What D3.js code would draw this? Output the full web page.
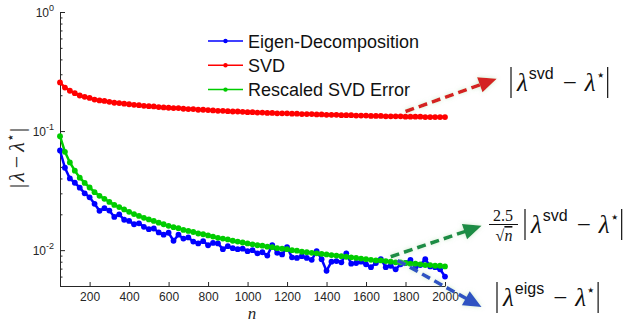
<!DOCTYPE html>
<html>
<head>
<meta charset="utf-8">
<script src="https://cdn.jsdelivr.net/npm/d3@7"></script>
<style>
  body { margin: 0; background: #fff; }
  svg { display: block; }
</style>
</head>
<body>
<div id="chart"></div>
<script>
// problem size n
const nValues = [50, 75, 100, 125, 150, 175, 200, 225, 250, 275, 300, 325, 350, 375, 400, 425, 450, 475, 500, 525,
  550, 575, 600, 625, 650, 675, 700, 725, 750, 775, 800, 825, 850, 875, 900, 925, 950, 975, 1000, 1025,
  1050, 1075, 1100, 1125, 1150, 1175, 1200, 1225, 1250, 1275, 1300, 1325, 1350, 1375, 1400, 1425, 1450, 1475, 1500, 1525,
  1550, 1575, 1600, 1625, 1650, 1675, 1700, 1725, 1750, 1775, 1800, 1825, 1850, 1875, 1900, 1925, 1950, 1975, 2000]

const eigenErr = [0.0687, 0.0492, 0.0400, 0.0368, 0.0335, 0.0300, 0.0278, 0.0245, 0.0214, 0.0225,
  0.0215, 0.0190, 0.0200, 0.0180, 0.0176, 0.0165, 0.0168, 0.0157, 0.0150, 0.0152,
  0.0141, 0.0135, 0.0140, 0.0120, 0.0135, 0.0125, 0.0128, 0.0118, 0.0114, 0.0119,
  0.0110, 0.0115, 0.0114, 0.0102, 0.0108, 0.0104, 0.0102, 0.0103, 0.0098, 0.0100,
  0.0094, 0.0096, 0.0090, 0.0110, 0.0095, 0.0092, 0.0106, 0.0087, 0.0086, 0.0089,
  0.0086, 0.0083, 0.0098, 0.0084, 0.0067, 0.0080, 0.0081, 0.0079, 0.0094, 0.0077,
  0.0078, 0.0080, 0.0076, 0.0072, 0.0078, 0.0084, 0.0072, 0.0074, 0.0069, 0.0076,
  0.0078, 0.0083, 0.0072, 0.0075, 0.0084, 0.0073, 0.0072, 0.0069, 0.0060]

const svdErr = [0.256, 0.232, 0.218, 0.208, 0.199, 0.194, 0.190, 0.184, 0.181, 0.179,
  0.176, 0.173, 0.172, 0.170, 0.168, 0.166, 0.165, 0.163, 0.162, 0.161,
  0.159, 0.158, 0.157, 0.156, 0.156, 0.154, 0.153, 0.153, 0.151, 0.151,
  0.150, 0.149, 0.148, 0.148, 0.147, 0.146, 0.146, 0.145, 0.144, 0.144,
  0.143, 0.143, 0.142, 0.142, 0.141, 0.141, 0.141, 0.140, 0.140, 0.139,
  0.139, 0.139, 0.138, 0.138, 0.137, 0.137, 0.137, 0.136, 0.136, 0.136,
  0.135, 0.135, 0.135, 0.134, 0.134, 0.134, 0.133, 0.133, 0.133, 0.133,
  0.132, 0.132, 0.132, 0.132, 0.131, 0.131, 0.131, 0.131, 0.131]

const rescaledErr = [0.0905, 0.0670, 0.0545, 0.0465, 0.0406, 0.0367, 0.0336, 0.0307, 0.0286, 0.0270,
  0.0254, 0.0240, 0.0230, 0.0220, 0.0210, 0.0201, 0.0194, 0.0187, 0.0181, 0.0176,
  0.0170, 0.0165, 0.0160, 0.0156, 0.0153, 0.0148, 0.0145, 0.0142, 0.0138, 0.0136,
  0.0133, 0.0130, 0.0127, 0.0125, 0.0123, 0.0120, 0.0118, 0.0116, 0.0114, 0.0112,
  0.0110, 0.0109, 0.0107, 0.0106, 0.0104, 0.0103, 0.0102, 0.0100, 0.0099, 0.0097,
  0.0096, 0.0095, 0.0094, 0.0093, 0.0092, 0.0091, 0.0090, 0.0089, 0.0088, 0.0087,
  0.0086, 0.0085, 0.0084, 0.0083, 0.0082, 0.0082, 0.0081, 0.0080, 0.0079, 0.0079,
  0.0078, 0.0077, 0.0077, 0.0076, 0.0075, 0.0075, 0.0074, 0.0074, 0.0073]

const seriesNames = ['Eigen-Decomposition', 'SVD', 'Rescaled SVD Error']
const xTicks = [200, 400, 600, 800, 1000, 1200, 1400, 1600, 1800, 2000]
const yTicks = [1, 0.1, 0.01]
const yTickExp = ['0', '-1', '-2']
const yMinorTicks = [0.9, 0.8, 0.7, 0.6, 0.5, 0.4, 0.3, 0.2,
  0.09, 0.08, 0.07, 0.06, 0.05, 0.04, 0.03, 0.02,
  0.009, 0.008, 0.007, 0.006, 0.005]

// annotation arrows, in data coordinates [n, value]
const arrows = [
  { from: [1800, 0.146], to: [2262, 0.275], color: '#d42020' },
  { from: [1725, 0.0088], to: [2185, 0.0160], color: '#1a8c45' },
  { from: [1760, 0.0082], to: [2185, 0.00333], color: '#2f53c2' },
]

const W = 639
const H = 323
const colors = ['#0000ff', '#ff0000', '#00cc00']
const axisColor = '#262626'
const mathFont = '"Liberation Serif", "DejaVu Serif", serif'
const sansFont = '"Liberation Sans", Arial, sans-serif'

const svg = d3.select('#chart').append('svg')
  .attr('width', W)
  .attr('height', H)

const defs = svg.append('defs')
const glow = defs.append('filter').attr('id', 'glow')
  .attr('x', '-50%').attr('y', '-50%').attr('width', '200%').attr('height', '200%')
glow.append('feDropShadow')
  .attr('dx', 0).attr('dy', 0).attr('stdDeviation', 2)
  .attr('flood-color', '#9ad49a').attr('flood-opacity', 0.5)

const x = d3.scaleLinear().domain([50, 2000]).range([60, 445])
const y = d3.scaleLog().domain([0.005, 1]).range([286, 12])

// axes
const xAxis = svg.append('g')
  .attr('transform', `translate(0,${y(0.005)})`)
  .call(d3.axisBottom(x).tickValues(xTicks).tickSize(-4).tickSizeOuter(0).tickPadding(6).tickFormat(d3.format('d')))
xAxis.selectAll('text')
  .attr('font-family', sansFont).attr('font-size', 12).attr('fill', axisColor)

const yMinor = svg.append('g')
  .attr('transform', `translate(${x(50)},0)`)
  .call(d3.axisLeft(y).tickValues(yMinorTicks).tickSize(-2.5).tickSizeOuter(0).tickFormat(''))
yMinor.select('.domain').remove()

svg.append('g')
  .attr('transform', `translate(${x(50)},0)`)
  .call(d3.axisLeft(y).tickValues(yTicks).tickSize(-5).tickSizeOuter(0).tickFormat(''))

svg.selectAll('.domain, .tick line').attr('stroke', axisColor).attr('stroke-width', 1)

yTicks.forEach((v, i) => {
  const t = svg.append('text')
    .attr('x', x(50) - 6)
    .attr('y', y(v) + 5)
    .attr('text-anchor', 'end')
    .attr('font-family', sansFont)
    .attr('fill', axisColor)
  t.append('tspan').attr('font-size', 12).text('10')
  t.append('tspan').attr('font-size', 9).attr('dy', -6).text(yTickExp[i])
})

// axis titles
svg.append('text')
  .attr('x', 252).attr('y', 319)
  .attr('text-anchor', 'middle')
  .attr('font-family', mathFont).attr('font-style', 'italic').attr('font-size', 17)
  .attr('fill', axisColor)
  .text('n')

const yl = svg.append('text')
  .attr('transform', 'translate(24,158) rotate(-90)')
  .attr('text-anchor', 'middle')
  .attr('font-family', mathFont).attr('font-size', 22)
  .attr('fill', axisColor)
yl.append('tspan').text('|')
yl.append('tspan').attr('font-style', 'italic').attr('dx', 2).text('λ')
yl.append('tspan').attr('dx', 4).text('−')
yl.append('tspan').attr('font-style', 'italic').attr('dx', 4).text('λ')
yl.append('tspan').attr('font-size', 14).attr('dy', -9).text('⋆')
yl.append('tspan').attr('dy', 9).attr('dx', 1).text('|')

// data series
const series = [eigenErr, svdErr, rescaledErr]
const line = d3.line().x((d) => x(d[0])).y((d) => y(d[1]))
series.forEach((vals, i) => {
  const pts = nValues.map((n, j) => [n, vals[j]])
  svg.append('path')
    .datum(pts)
    .attr('fill', 'none')
    .attr('stroke', colors[i])
    .attr('stroke-width', 2.5)
    .attr('d', line)
  svg.append('g')
    .selectAll('circle')
    .data(pts)
    .join('circle')
    .attr('cx', (d) => x(d[0]))
    .attr('cy', (d) => y(d[1]))
    .attr('r', 2.9)
    .attr('fill', colors[i])
})

// legend
seriesNames.forEach((name, i) => {
  const ly = 41 + i * 24.3
  svg.append('line')
    .attr('x1', 208).attr('x2', 243)
    .attr('y1', ly).attr('y2', ly)
    .attr('stroke', colors[i]).attr('stroke-width', 1.5)
  svg.append('circle')
    .attr('cx', 225.5).attr('cy', ly).attr('r', 2.2)
    .attr('fill', colors[i])
  svg.append('text')
    .attr('x', 248).attr('y', ly + 6.5)
    .attr('font-family', sansFont).attr('font-size', 18)
    .attr('fill', '#111')
    .text(name)
})

// dashed annotation arrows
arrows.forEach(({ from, to, color }) => {
  const p0 = [x(from[0]), y(from[1])]
  const p1 = [x(to[0]), y(to[1])]
  const dx = p1[0] - p0[0]
  const dy = p1[1] - p0[1]
  const len = Math.hypot(dx, dy)
  const ux = dx / len
  const uy = dy / len
  const headLen = 18
  const headW = 8
  const base = [p1[0] - ux * headLen, p1[1] - uy * headLen]
  const g = svg.append('g').attr('filter', 'url(#glow)')
  g.append('line')
    .attr('x1', p0[0]).attr('y1', p0[1])
    .attr('x2', base[0] + ux * 2).attr('y2', base[1] + uy * 2)
    .attr('stroke', color).attr('stroke-width', 3.5)
    .attr('stroke-dasharray', '9 5')
  g.append('path')
    .attr('d', `M${p1[0]},${p1[1]}L${base[0] - uy * headW},${base[1] + ux * headW}L${base[0] + uy * headW},${base[1] - ux * headW}Z`)
    .attr('fill', color)
})

// math labels |λ^sup − λ*|
function absLabel(x0, yc, sup) {
  const g = svg.append('g')
  const t = g.append('text')
    .attr('x', x0 + 6).attr('y', yc + 8)
    .attr('font-family', mathFont).attr('font-size', 25)
    .attr('fill', '#111')
  t.append('tspan').attr('font-style', 'italic').text('λ')
  t.append('tspan').attr('font-family', sansFont).attr('font-size', 16).attr('dy', -12).attr('dx', 1).text(sup)
  t.append('tspan').attr('dy', 12).attr('dx', 9).text('−')
  t.append('tspan').attr('font-style', 'italic').attr('dx', 8).text('λ')
  t.append('tspan').attr('font-size', 15).attr('dy', -11).text('⋆')
  const bb = t.node().getBBox()
  ;[x0, bb.x + bb.width + 3].forEach((bx) => {
    g.append('line')
      .attr('x1', bx).attr('x2', bx)
      .attr('y1', yc - 16).attr('y2', yc + 15)
      .attr('stroke', '#111').attr('stroke-width', 1.2)
  })
}

absLabel(511, 83, 'svd')
absLabel(525, 225, 'svd')
absLabel(497, 298, 'eigs')

// 2.5 / sqrt(n)
svg.append('text')
  .attr('x', 503).attr('y', 221)
  .attr('text-anchor', 'middle')
  .attr('font-family', mathFont).attr('font-size', 16)
  .attr('fill', '#111')
  .text('2.5')
svg.append('line')
  .attr('x1', 489).attr('x2', 518)
  .attr('y1', 224.5).attr('y2', 224.5)
  .attr('stroke', '#111').attr('stroke-width', 1)
const den = svg.append('text')
  .attr('x', 504).attr('y', 241)
  .attr('text-anchor', 'middle')
  .attr('font-family', mathFont).attr('font-size', 16)
  .attr('fill', '#111')
den.append('tspan').text('√')
den.append('tspan').attr('font-style', 'italic').attr('text-decoration', 'overline').text('n')
</script>
</body>
</html>
